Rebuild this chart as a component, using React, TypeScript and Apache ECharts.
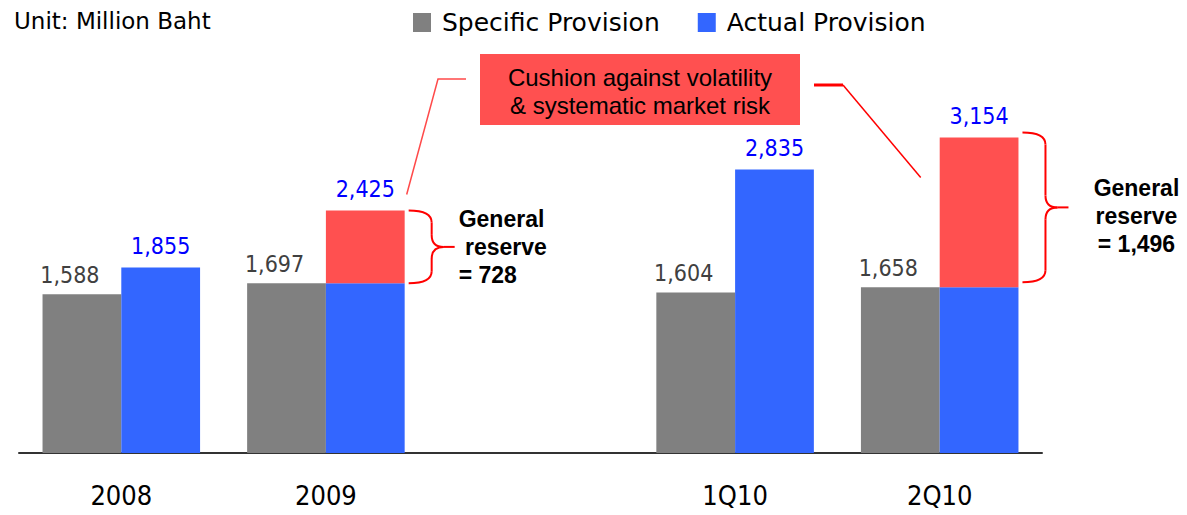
import React, { useEffect, useRef } from "react";
import * as echarts from "echarts";

// Provision figures, million baht
const categories = ["2008", "2009", "", "1Q10", "2Q10"];
const specificProvision: (number | null)[] = [1588, 1697, null, 1604, 1658];
const actualProvision: (number | null)[] = [1855, 2425, null, 2835, 3154];
const generalReserve: (number | null)[] = [0, 728, null, 0, 1496];

const legendNames = ["Specific Provision", "Actual Provision"];
const reserveName = "General Reserve";
const unitText = "Unit: Million Baht";
const cushionText = "Cushion against volatility\n& systematic market risk";

const GRAY = "#808080";
const BLUE = "#3366FF";
const RED = "#FF5050";
const BRACE_RED = "#FF0000";
const LABEL_GRAY = "#404040";
const LABEL_BLUE = "#0000FF";

const CONDENSED = "'DejaVu Sans Condensed', 'DejaVu Sans', sans-serif";
const SANS = "'DejaVu Sans', sans-serif";
const ARIAL = "'Liberation Sans', Arial, sans-serif";

const CATEGORY_GAP = 0.23;

const fmt = (v: number) => v.toLocaleString("en-US");

const valueLabel = (color: string, distance: number) => ({
  show: true,
  position: "top" as const,
  distance,
  color,
  fontSize: 23,
  fontFamily: CONDENSED,
});

function buildOption() {
  return {
    animation: false,
    backgroundColor: "#ffffff",
    title: {
      text: unitText,
      left: 14,
      top: 9,
      padding: 0,
      textStyle: { fontSize: 23, fontWeight: "normal", color: "#000", fontFamily: SANS },
    },
    legend: {
      data: legendNames,
      left: 413,
      top: 10,
      padding: 0,
      itemWidth: 18,
      itemHeight: 19,
      itemGap: 38,
      icon: "rect",
      textStyle: { fontSize: 25, color: "#000", fontFamily: SANS, padding: [0, 0, 0, 6] },
    },
    grid: { left: 19, right: 145, top: 103, bottom: 62, containLabel: false },
    xAxis: {
      type: "category",
      data: categories,
      axisLine: { show: true, lineStyle: { color: "#333333", width: 2 } },
      axisTick: { show: false },
      axisLabel: { margin: 29, fontSize: 27, color: "#000", fontFamily: CONDENSED },
    },
    yAxis: {
      type: "value",
      min: 0,
      max: 3500,
      show: false,
      splitLine: { show: false },
    },
    series: [
      {
        name: legendNames[0],
        type: "bar",
        stack: "specific",
        barGap: "0%",
        barCategoryGap: `${CATEGORY_GAP * 100}%`,
        itemStyle: { color: GRAY },
        data: specificProvision.map((v) => (v == null ? "-" : v)),
        label: {
          ...valueLabel(LABEL_GRAY, 8),
          offset: [-12, 0],
          formatter: (p: any) => fmt(p.value),
        },
      },
      {
        name: legendNames[1],
        type: "bar",
        stack: "actual",
        barGap: "0%",
        barCategoryGap: `${CATEGORY_GAP * 100}%`,
        itemStyle: { color: BLUE },
        data: actualProvision.map((v, i) =>
          v == null
            ? "-"
            : { value: v - (generalReserve[i] || 0), label: { show: !generalReserve[i] } }
        ),
        label: {
          ...valueLabel(LABEL_BLUE, 10),
          formatter: (p: any) => fmt(actualProvision[p.dataIndex] as number),
        },
      },
      {
        name: reserveName,
        type: "bar",
        stack: "actual",
        barGap: "0%",
        barCategoryGap: `${CATEGORY_GAP * 100}%`,
        itemStyle: { color: RED },
        data: generalReserve.map((r) => (r ? r : "-")),
        label: {
          ...valueLabel(LABEL_BLUE, 10),
          formatter: (p: any) => fmt(actualProvision[p.dataIndex] as number),
        },
      },
    ],
  };
}

// Curly brace made of quadratic curves and straight segments
function brace(xs: number, yTop: number, yBot: number) {
  const xsp = xs + 23;
  const xt = xs + 46;
  const ym = (yTop + yBot) / 2;
  const r = Math.min(12, (yBot - yTop) / 6);
  const style = { stroke: BRACE_RED, lineWidth: 2, fill: "none" };
  const curve = (x1: number, y1: number, cx: number, cy: number, x2: number, y2: number) => ({
    type: "bezierCurve",
    shape: { x1, y1, cpx1: cx, cpy1: cy, x2, y2 },
    style,
  });
  const seg = (x1: number, y1: number, x2: number, y2: number) => ({
    type: "line",
    shape: { x1, y1, x2, y2 },
    style,
  });
  return {
    tip: xt,
    mid: ym,
    elements: [
      curve(xs, yTop, xsp, yTop, xsp, yTop + r),
      seg(xsp, yTop + r, xsp, ym - r),
      curve(xsp, ym - r, xsp, ym, xsp + r, ym),
      seg(xsp + r, ym, xt, ym),
      curve(xsp + r, ym, xsp, ym, xsp, ym + r),
      seg(xsp, ym + r, xsp, yBot - r),
      curve(xsp, yBot - r, xsp, yBot, xs, yBot),
    ],
  };
}

export default function App() {
  const ref = useRef<HTMLDivElement>(null);

  useEffect(() => {
    if (!ref.current) return;
    const chart = echarts.init(ref.current, null, { renderer: "svg" });
    chart.setOption(buildOption());

    const px = (i: number, v: number) =>
      chart.convertToPixel({ gridIndex: 0 }, [i, v]) as number[];
    const band = px(1, 0)[0] - px(0, 0)[0];
    const barW = (band * (1 - CATEGORY_GAP)) / 2;

    const graphics: any[] = [];

    // Braces and captions for every general reserve segment
    generalReserve.forEach((r, i) => {
      if (!r) return;
      const total = actualProvision[i] as number;
      const last = i === generalReserve.length - 1;
      const lift = last ? 5 : 0;
      const right = px(i, 0)[0] + barW;
      const yTop = px(i, total)[1] - lift;
      const yBot = px(i, total - r)[1] - lift;
      const b = brace(right + 4, yTop, yBot);
      graphics.push(...b.elements);
      graphics.push({
        type: "text",
        style: {
          text: last ? `General\nreserve\n= ${fmt(r)}` : `General\n reserve\n= ${fmt(r)}`,
          x: last ? b.tip + 68 : b.tip + 4,
          y: last ? b.mid + 9 : b.mid,
          align: last ? "center" : "left",
          verticalAlign: "middle",
          lineHeight: 28,
          fontSize: 23,
          fontWeight: "bold",
          fontFamily: ARIAL,
          fill: "#000",
        },
      });
    });

    // Callout box
    graphics.push({
      type: "rect",
      shape: { x: 480, y: 54, width: 320, height: 71 },
      style: { fill: RED },
    });
    graphics.push({
      type: "text",
      style: {
        text: cushionText,
        x: 640,
        y: 91,
        align: "center",
        verticalAlign: "middle",
        lineHeight: 28,
        fontSize: 24,
        fontFamily: ARIAL,
        fill: "#000",
      },
    });

    // Connectors from the callout to the reserve segments
    const idx2009 = 1;
    const idx2Q10 = 4;
    const leftEnd = [
      px(idx2009, 0)[0] + barW + 2,
      px(idx2009, actualProvision[idx2009] as number)[1] - 16,
    ];
    const rightEnd = [
      px(idx2Q10, 0)[0] - 19,
      px(idx2Q10, actualProvision[idx2Q10] as number)[1] + 40,
    ];
    graphics.push({
      type: "polyline",
      shape: { points: [[466, 79], [438, 79], leftEnd] },
      style: { stroke: "#FF4A4A", lineWidth: 1.5, fill: "none" },
    });
    graphics.push({
      type: "line",
      shape: { x1: 814, y1: 85, x2: 843, y2: 85 },
      style: { stroke: BRACE_RED, lineWidth: 3 },
    });
    graphics.push({
      type: "line",
      shape: { x1: 843, y1: 85, x2: rightEnd[0], y2: rightEnd[1] },
      style: { stroke: BRACE_RED, lineWidth: 1.5 },
    });

    chart.setOption({ graphic: graphics });

    return () => chart.dispose();
  }, []);

  return (
    <div
      ref={ref}
      style={{ position: "absolute", left: 0, top: 0, width: 1187, height: 515, background: "#fff" }}
    />
  );
}
